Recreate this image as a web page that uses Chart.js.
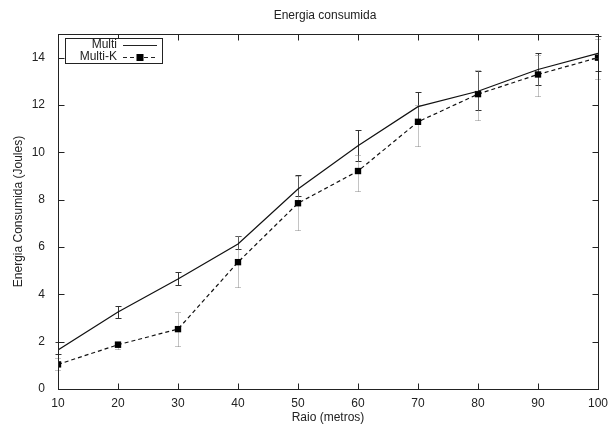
<!DOCTYPE html>
<html>
<head>
<meta charset="utf-8">
<script src="https://cdn.jsdelivr.net/npm/chart.js@4"></script>
<style>
  html, body { margin: 0; padding: 0; background: #fff; }
  #wrap { position: relative; width: 608px; height: 427px; }
</style>
</head>
<body>
<div id="wrap"><canvas id="c" width="608" height="427"></canvas></div>
<script>
// ---- data ----
const chartTitle = 'Energia consumida';
const xTitle = 'Raio (metros)';
const yTitle = 'Energia Consumida (Joules)';
const seriesNames = ['Multi', 'Multi-K'];
const raio = [10, 20, 30, 40, 50, 60, 70, 80, 90, 100];
const multi = [1.65, 3.25, 4.65, 6.13, 8.45, 10.28, 11.93, 12.58, 13.5, 14.18];
const multiLow = [1.5, 3.0, 4.4, 5.9, 8.15, 9.65, 11.35, 11.8, 12.85, 13.45];
const multiHigh = [2.0, 3.52, 4.95, 6.45, 9.05, 10.94, 12.56, 13.45, 14.18, 14.9];
const multiK = [1.04, 1.87, 2.53, 5.36, 7.85, 9.21, 11.29, 12.46, 13.29, 14.0];
const multiKLow = [0.8, 1.68, 1.8, 4.3, 6.7, 8.38, 10.27, 11.36, 12.38, 13.1];
const multiKHigh = [1.3, 2.04, 3.24, 6.46, 9.0, 9.9, 12.0, 13.5, 14.1, 14.8];
const xTickValues = [10, 20, 30, 40, 50, 60, 70, 80, 90, 100];
const yTickValues = [0, 2, 4, 6, 8, 10, 12, 14];

const FONT = "'Liberation Sans', Arial, sans-serif";

const errorBars = [
  { low: multiLow, high: multiHigh, color: '#333', dash: [], dsIndex: 0 },
  { low: multiKLow, high: multiKHigh, color: '#888', dash: [1, 1], dsIndex: 1 }
];

const gnuplotPlugin = {
  id: 'gnuplot',
  beforeDatasetsDraw(chart) {
    const ctx = chart.ctx, xs = chart.scales.x, ys = chart.scales.y;
    ctx.save();
    errorBars.forEach(eb => {
      ctx.strokeStyle = eb.color;
      ctx.lineWidth = 1;
      ctx.setLineDash(eb.dash);
      raio.forEach((r, i) => {
        const x = Math.round(xs.getPixelForValue(r)) + 0.5;
        const yl = Math.round(ys.getPixelForValue(eb.low[i])) + 0.5;
        const yh = Math.round(ys.getPixelForValue(eb.high[i])) + 0.5;
        ctx.beginPath();
        ctx.moveTo(x, yl); ctx.lineTo(x, yh);
        ctx.moveTo(x - 3, yl); ctx.lineTo(x + 3, yl);
        ctx.moveTo(x - 3, yh); ctx.lineTo(x + 3, yh);
        ctx.stroke();
      });
    });
    ctx.restore();
  },
  afterDraw(chart) {
    const ctx = chart.ctx, a = chart.chartArea, xs = chart.scales.x, ys = chart.scales.y;
    ctx.save();
    ctx.setLineDash([]);
    ctx.strokeStyle = '#222';
    ctx.lineWidth = 1;
    // frame
    const L = Math.round(a.left) + 0.5, R = Math.round(a.right) + 0.5;
    const T = Math.round(a.top) + 0.5, B = Math.round(a.bottom) + 0.5;
    ctx.strokeRect(L, T, R - L, B - T);
    // inward ticks (mirrored)
    const tl = 6;
    ctx.beginPath();
    xTickValues.forEach(v => {
      const x = Math.round(xs.getPixelForValue(v)) + 0.5;
      ctx.moveTo(x, B); ctx.lineTo(x, B - tl);
      ctx.moveTo(x, T); ctx.lineTo(x, T + tl);
    });
    yTickValues.forEach(v => {
      const y = Math.round(ys.getPixelForValue(v)) + 0.5;
      ctx.moveTo(L, y); ctx.lineTo(L + tl, y);
      ctx.moveTo(R, y); ctx.lineTo(R - tl, y);
    });
    ctx.stroke();
    // title
    ctx.fillStyle = '#222';
    ctx.font = '12px ' + FONT;
    ctx.textAlign = 'center';
    ctx.textBaseline = 'middle';
    ctx.fillText(chartTitle, (a.left + a.right) / 2 - 3, 16);
    // legend box
    const bx = 65.5, by = 38.5, bw = 97, bh = 25;
    ctx.fillStyle = '#fff';
    ctx.fillRect(bx, by, bw, bh);
    ctx.strokeRect(bx, by, bw, bh);
    ctx.fillStyle = '#222';
    ctx.textAlign = 'right';
    ctx.font = '12px ' + FONT;
    const rows = [45, 57];
    ctx.fillText(seriesNames[0], 117, rows[0]);
    ctx.fillText(seriesNames[1], 117, rows[1]);
    ctx.beginPath();
    ctx.moveTo(123, rows[0] + 0.5); ctx.lineTo(157, rows[0] + 0.5);
    ctx.stroke();
    ctx.setLineDash([4, 3]);
    ctx.beginPath();
    ctx.moveTo(123, rows[1] + 0.5); ctx.lineTo(157, rows[1] + 0.5);
    ctx.stroke();
    ctx.setLineDash([]);
    ctx.fillStyle = '#000';
    ctx.fillRect(140 - 3.5, rows[1] - 3, 7, 7);
    ctx.restore();
  }
};

new Chart(document.getElementById('c'), {
  type: 'line',
  data: {
    datasets: [
      {
        label: seriesNames[0],
        data: raio.map((r, i) => ({ x: r, y: multi[i] })),
        borderColor: '#111',
        borderWidth: 1.2,
        pointRadius: 0,
        tension: 0,
        fill: false
      },
      {
        label: seriesNames[1],
        data: raio.map((r, i) => ({ x: r, y: multiK[i] })),
        borderColor: '#111',
        borderWidth: 1.2,
        borderDash: [4, 3],
        pointStyle: 'rect',
        pointRadius: 4.5,
        pointBackgroundColor: '#000',
        pointBorderColor: '#000',
        pointBorderWidth: 0,
        tension: 0,
        fill: false
      }
    ]
  },
  options: {
    responsive: false,
    animation: false,
    devicePixelRatio: 1,
    layout: { padding: { left: 0, right: 10, top: 34, bottom: 0 } },
    plugins: {
      legend: { display: false },
      title: { display: false },
      tooltip: { enabled: false }
    },
    scales: {
      x: {
        type: 'linear',
        min: 10, max: 100,
        afterBuildTicks: s => { s.ticks = xTickValues.map(v => ({ value: v })); },
        afterFit: s => { s.height = 38; s.paddingLeft = 0; s.paddingRight = 0; },
        grid: { display: false, drawTicks: false },
        border: { display: false },
        ticks: { color: '#222', font: { family: FONT, size: 12 }, padding: 7, maxRotation: 0, autoSkip: false },
        title: { display: true, text: xTitle, color: '#222', font: { family: FONT, size: 12 }, padding: { top: 0, bottom: 2 } }
      },
      y: {
        type: 'linear',
        min: 0, max: 15,
        afterBuildTicks: s => { s.ticks = yTickValues.map(v => ({ value: v })); },
        afterFit: s => { s.width = 58; s.paddingTop = 0; s.paddingBottom = 0; },
        grid: { display: false, drawTicks: false },
        border: { display: false },
        ticks: { color: '#222', font: { family: FONT, size: 12 }, padding: 13, autoSkip: false },
        title: { display: true, text: yTitle, color: '#222', font: { family: FONT, size: 12 }, padding: { top: 11, bottom: 0 } }
      }
    }
  },
  plugins: [gnuplotPlugin]
});
</script>
</body>
</html>
